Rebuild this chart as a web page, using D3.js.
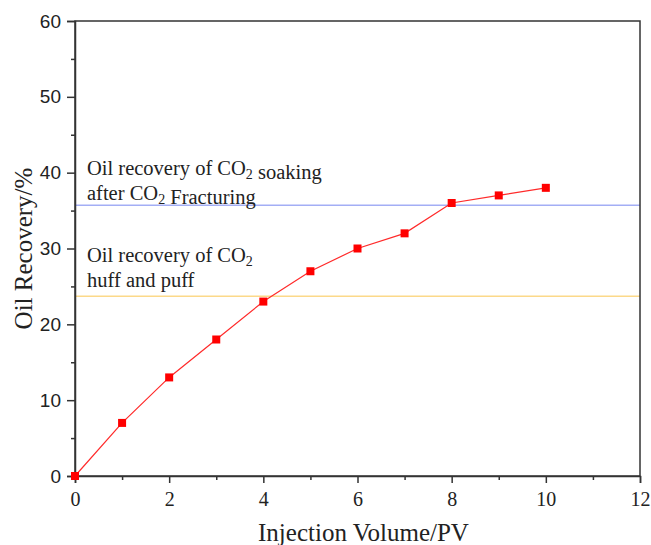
<!DOCTYPE html>
<html>
<head>
<meta charset="utf-8">
<script src="https://cdn.jsdelivr.net/npm/d3@7"></script>
<style>
  body { margin: 0; background: #fff; }
  svg { display: block; }
</style>
</head>
<body>
<div id="chart"></div>
<script>
// data
const volume = [0, 1, 2, 3, 4, 5, 6, 7, 8, 9, 10];
const recovery = [0, 7, 13, 18, 23, 27, 30, 32, 36, 37, 38];
const xTicks = [0, 2, 4, 6, 8, 10, 12];
const yTicks = [0, 10, 20, 30, 40, 50, 60];
const refValues = [35.7, 23.7];
const refColors = ["#a3aef5", "#fcd98a"];

const width = 651, height = 545;
const margin = {top : 21, right : 11, bottom : 69, left : 75};

const svg = d3.select("#chart").append("svg")
    .attr("width", width)
    .attr("height", height);

const x = d3.scaleLinear().domain([0, 12]).range([margin.left, width - margin.right]);
const y = d3.scaleLinear().domain([0, 60]).range([height - margin.bottom, margin.top]);

const serif = "'Liberation Serif', 'Times New Roman', serif";
const sans = "'Liberation Sans', Arial, sans-serif";

// reference lines
svg.selectAll("line.ref")
  .data(refValues)
  .enter().append("line")
  .attr("class", "ref")
  .attr("x1", x(0)).attr("x2", x(12))
  .attr("y1", d => y(d)).attr("y2", d => y(d))
  .attr("stroke", (d, i) => refColors[i])
  .attr("stroke-width", 1.5);

// frame
svg.append("rect")
  .attr("x", x(0)).attr("y", y(60))
  .attr("width", x(12) - x(0)).attr("height", y(0) - y(60))
  .attr("fill", "none").attr("stroke", "#333").attr("stroke-width", 1.5);

// axes
const xAxis = svg.append("g")
  .attr("transform", `translate(0,${y(0)})`)
  .call(d3.axisBottom(x).tickValues(xTicks).tickSize(7).tickPadding(9).tickFormat(d3.format("d")));
svg.append("g")
  .attr("transform", `translate(0,${y(0)})`)
  .call(d3.axisBottom(x).tickValues(d3.range(1, 12, 2)).tickSize(4).tickFormat(""))
  .call(g => g.select(".domain").remove());

const yAxis = svg.append("g")
  .attr("transform", `translate(${x(0)},0)`)
  .call(d3.axisLeft(y).tickValues(yTicks).tickSize(8).tickPadding(6));
svg.append("g")
  .attr("transform", `translate(${x(0)},0)`)
  .call(d3.axisLeft(y).tickValues(d3.range(5, 60, 10)).tickSize(4).tickFormat(""))
  .call(g => g.select(".domain").remove());

svg.selectAll(".domain, .tick line").attr("stroke", "#333").attr("stroke-width", 1.5);
xAxis.selectAll("text").attr("font-family", serif).attr("font-size", 20).attr("fill", "#222");
yAxis.selectAll("text").attr("font-family", sans).attr("font-size", 19).attr("fill", "#222");

// axis titles
svg.append("text")
  .attr("x", (x(0) + x(12)) / 2 + 6).attr("y", 541)
  .attr("text-anchor", "middle")
  .attr("font-family", serif).attr("font-size", 25).attr("fill", "#222")
  .text("Injection Volume/PV");

svg.append("text")
  .attr("transform", `translate(32,${(y(0) + y(60)) / 2}) rotate(-90)`)
  .attr("text-anchor", "middle")
  .attr("font-family", serif).attr("font-size", 25).attr("fill", "#222")
  .text("Oil Recovery/%");

// series
svg.append("path")
  .datum(volume.map((v, i) => [v, recovery[i]]))
  .attr("fill", "none")
  .attr("stroke", "#ff2a2a")
  .attr("stroke-width", 1.2)
  .attr("d", d3.line().x(d => x(d[0])).y(d => y(d[1])));

svg.selectAll("rect.pt")
  .data(volume.map((v, i) => [v, recovery[i]]))
  .enter().append("rect")
  .attr("class", "pt")
  .attr("x", d => x(d[0]) - 4).attr("y", d => y(d[1]) - 4)
  .attr("width", 8).attr("height", 8)
  .attr("fill", "#ff0000");

// annotations with CO2 subscripts
function note(xp, yp, parts) {
  const t = svg.append("text")
    .attr("x", xp).attr("y", yp)
    .attr("font-family", serif).attr("font-size", 20.5).attr("fill", "#222");
  parts.forEach(p => {
    if (p === "2") {
      t.append("tspan").attr("font-size", 14).attr("dy", 4).text("2");
      t.append("tspan").attr("dy", -4).text("");
    } else {
      t.append("tspan").text(p);
    }
  });
}
note(87, 175, ["Oil recovery of CO", "2", " soaking"]);
note(87, 200, ["after CO", "2", " Fracturing"]);
note(87, 262, ["Oil recovery of CO", "2"]);
note(87, 287, ["huff and puff"]);
</script>
</body>
</html>
